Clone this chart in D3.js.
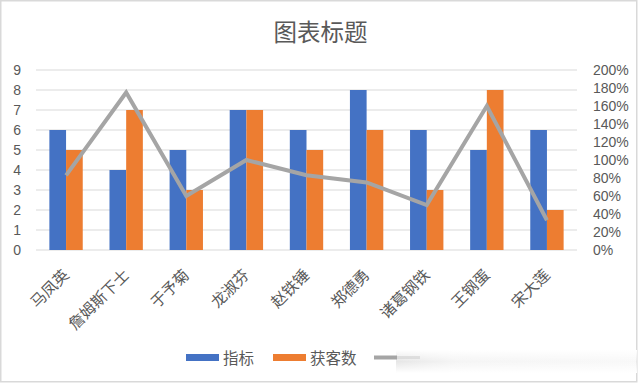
<!DOCTYPE html>
<html><head><meta charset="utf-8">
<script src="https://cdn.jsdelivr.net/npm/d3@7"></script>
<style>
html,body{margin:0;padding:0;background:#fff;}
svg{display:block;}
.cjk{font-family:"Noto Sans CJK SC","Liberation Sans",sans-serif;}
.num{font-family:"Liberation Sans",Arial,sans-serif;}
</style></head>
<body>
<script>
const categories = ["马凤英","詹姆斯下士","于予菊","龙淑芬","赵铁锤","郑德勇","诸葛钢铁","王钢蛋","宋大莲"];
const targetValues = [6,4,5,7,6,8,6,5,6];      // 指标
const customerValues = [5,7,3,7,5,6,3,8,2];    // 获客数
const ratioValues = [83,175,60,100,83,75,50,160,33]; // 百分比 (%)
const leftTicks = [0,1,2,3,4,5,6,7,8,9];
const rightTicks = [0,20,40,60,80,100,120,140,160,180,200];
const seriesNames = ["指标","获客数"];
const title = "图表标题";

(function(){
const W = 640, H = 385;
const svg = d3.select("body").append("svg").attr("width", W).attr("height", H);

const defs = svg.append("defs");
const g1 = defs.append("linearGradient").attr("id","fade").attr("x1","0").attr("x2","1");
g1.append("stop").attr("offset","0").attr("stop-color","#e6e6e6").attr("stop-opacity",1);
g1.append("stop").attr("offset","0.25").attr("stop-color","#f2f2f2").attr("stop-opacity",0.8);
g1.append("stop").attr("offset","1").attr("stop-color","#f4f4f4").attr("stop-opacity",0.6);
const g2 = defs.append("linearGradient").attr("id","vfade").attr("x1","0").attr("x2","0").attr("y1","0").attr("y2","1");
g2.append("stop").attr("offset","0").attr("stop-color","#fff").attr("stop-opacity",1);
g2.append("stop").attr("offset","0.5").attr("stop-color","#fff").attr("stop-opacity",0);
g2.append("stop").attr("offset","1").attr("stop-color","#fff").attr("stop-opacity",1);

// border
svg.append("rect").attr("x",0.75).attr("y",0.75).attr("width",636).attr("height",381)
  .attr("fill","#fff").attr("stroke","#d9d9d9").attr("stroke-width",1.5);

const pl = 36, pr = 577, pt = 70, pb = 250;

const x0 = d3.scaleBand().domain(categories).range([pl, pr]).padding(0);
const groupW = x0.bandwidth() * 0.555;
const x1 = d3.scaleBand().domain(seriesNames)
  .range([(x0.bandwidth()-groupW)/2, (x0.bandwidth()+groupW)/2]).padding(0);
const y = d3.scaleLinear().domain([0,9]).range([pb, pt]);
const y2 = d3.scaleLinear().domain([0,200]).range([pb, pt]);

// title
svg.append("text").attr("class","cjk").attr("x", 320.5).attr("y", 41).attr("text-anchor","middle")
  .attr("font-size", 23.5).attr("fill","#595959").text(title);

// gridlines
svg.append("g").selectAll("line").data(leftTicks).join("line")
  .attr("x1", pl).attr("x2", pr)
  .attr("y1", d => y(d)).attr("y2", d => y(d))
  .attr("stroke","#d9d9d9").attr("stroke-width",1.2);

// left axis
const la = svg.append("g").attr("transform", `translate(${pl},0)`)
  .call(d3.axisLeft(y).tickValues(leftTicks).tickSize(0).tickPadding(15));
la.select(".domain").remove();
la.attr("font-family", null).attr("font-size", null);
la.selectAll("text").attr("class","num").attr("font-size",14).attr("fill","#595959");

// right axis
const ra = svg.append("g").attr("transform", `translate(593,0)`)
  .call(d3.axisRight(y2).tickValues(rightTicks).tickSize(0).tickPadding(0).tickFormat(d => d + "%"));
ra.select(".domain").remove();
ra.attr("font-family", null).attr("font-size", null);
ra.selectAll("text").attr("class","num").attr("font-size",14).attr("fill","#595959");

// bars
const colors = {"指标":"#4472C4","获客数":"#ED7D31"};
const rows = categories.map((c,i) => ({c, vals:[{k:"指标",v:targetValues[i]},{k:"获客数",v:customerValues[i]}]}));
svg.append("g").selectAll("g").data(rows).join("g")
  .attr("transform", d => `translate(${x0(d.c)},0)`)
  .selectAll("rect").data(d => d.vals).join("rect")
  .attr("x", d => x1(d.k)).attr("width", x1.bandwidth())
  .attr("y", d => y(d.v)).attr("height", d => y(0) - y(d.v))
  .attr("fill", d => colors[d.k]);

// line
const line = d3.line().x((d,i) => x0(categories[i]) + x0.bandwidth()/2).y(d => y2(d));
svg.append("path").datum(ratioValues).attr("d", line)
  .attr("fill","none").attr("stroke","#A5A5A5").attr("stroke-width",4)
  .attr("stroke-linejoin","miter").attr("stroke-linecap","butt");

// x labels
svg.append("g").selectAll("text").data(categories).join("text")
  .attr("class","cjk")
  .attr("transform", d => `translate(${x0(d)+x0.bandwidth()/2-1},271) rotate(-45)`)
  .attr("text-anchor","end").attr("dominant-baseline","central")
  .attr("font-size",15.5).attr("fill","#595959").text(d => d);

// legend
const lg = svg.append("g");
lg.append("rect").attr("x",396).attr("y",350).attr("width",241).attr("height",23).attr("fill","url(#fade)");
lg.append("rect").attr("x",396).attr("y",350).attr("width",241).attr("height",23).attr("fill","url(#vfade)");
lg.append("rect").attr("x",186).attr("y",354).attr("width",33).attr("height",7).attr("fill",colors["指标"]);
lg.append("text").attr("class","cjk").attr("x",223).attr("y",363.5).attr("font-size",15.5).attr("fill","#595959").text(seriesNames[0]);
lg.append("rect").attr("x",273).attr("y",354).attr("width",33).attr("height",7).attr("fill",colors["获客数"]);
lg.append("text").attr("class","cjk").attr("x",310).attr("y",363.5).attr("font-size",15.5).attr("fill","#595959").text(seriesNames[1]);
lg.append("line").attr("x1",374).attr("x2",397).attr("y1",357.5).attr("y2",357.5)
  .attr("stroke","#A5A5A5").attr("stroke-width",4);
lg.append("line").attr("x1",397).attr("x2",420).attr("y1",357.5).attr("y2",357.5)
  .attr("stroke","#d0d0d0").attr("stroke-width",3).attr("stroke-opacity",0.6);
})();
</script>
</body></html>
